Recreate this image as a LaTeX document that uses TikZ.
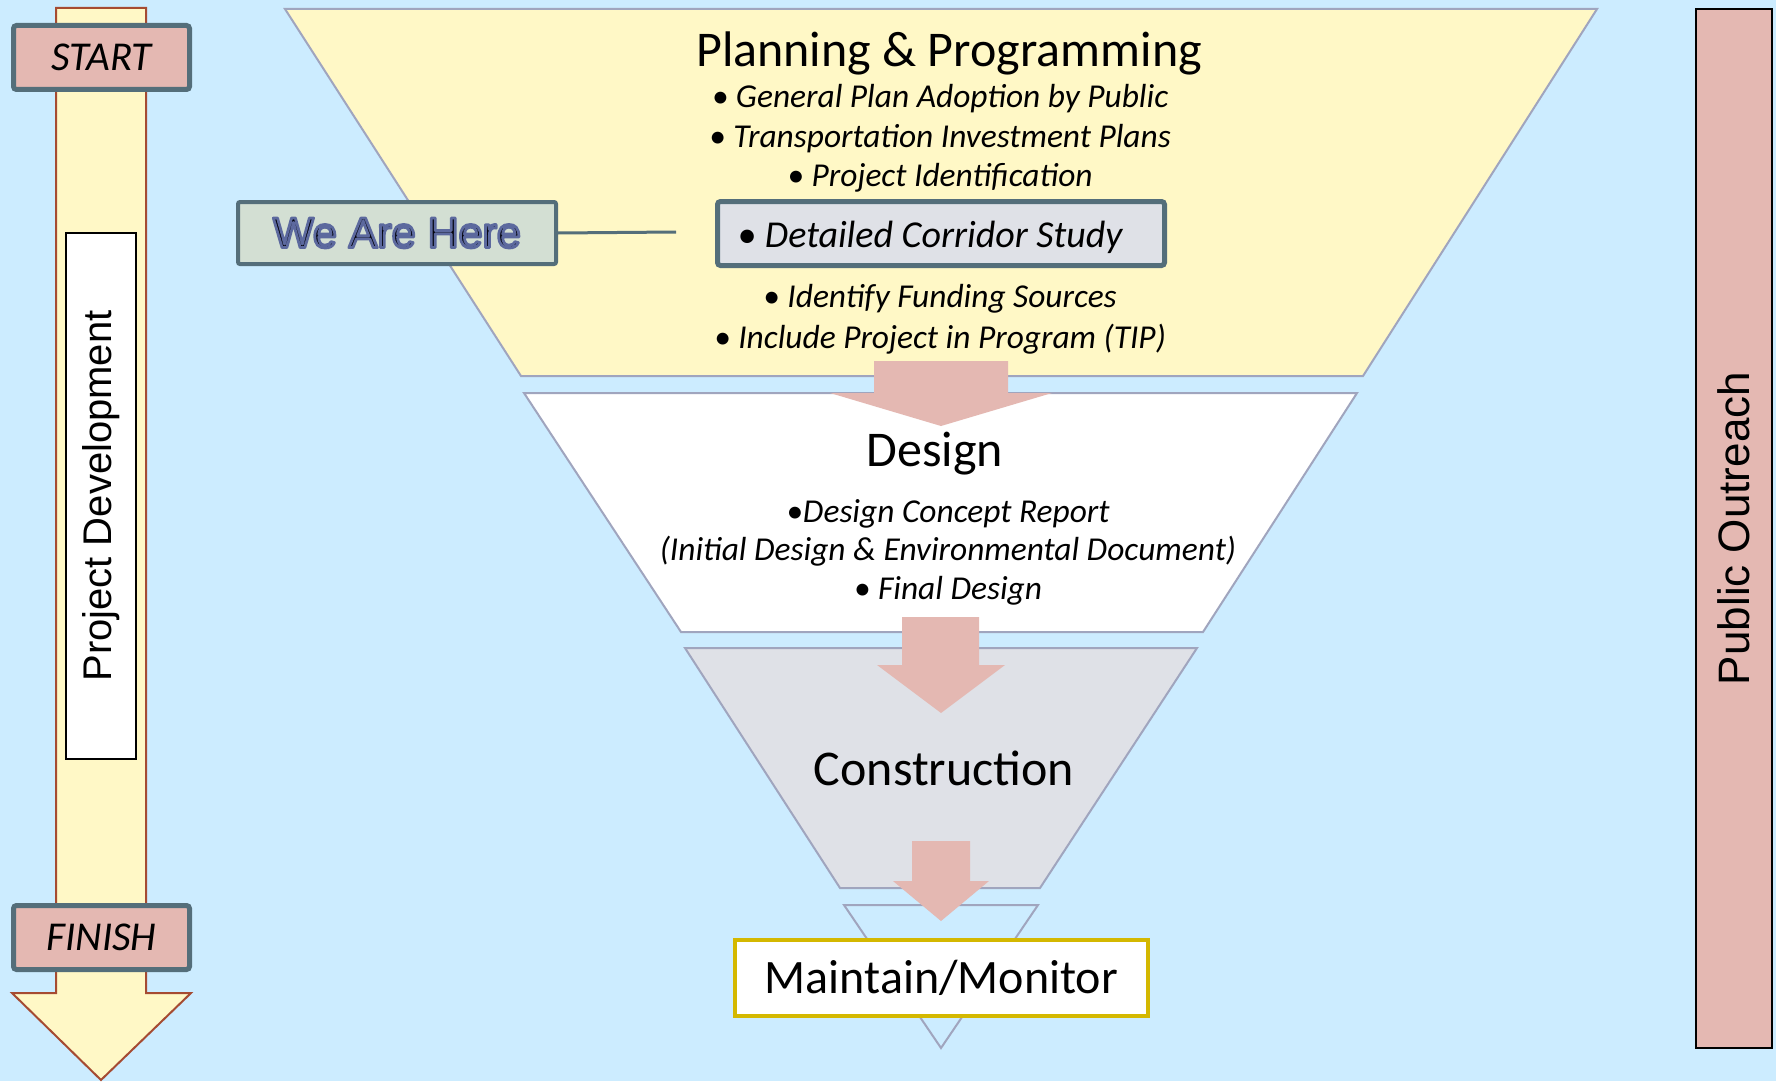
\documentclass[tikz,border=0pt]{standalone}
\usepackage{fontspec}
\setmainfont{Carlito}
\newfontfamily\arialfont{Liberation Sans}
\definecolor{bgblue}{RGB}{204,236,255}
\definecolor{paleyellow}{RGB}{255,248,198}
\definecolor{pinkfill}{RGB}{228,184,178}
\definecolor{slateline}{RGB}{84,110,122}
\definecolor{brownline}{RGB}{165,75,50}
\definecolor{trapline}{RGB}{160,165,190}
\definecolor{constgray}{RGB}{223,225,231}
\definecolor{sagefill}{RGB}{211,223,211}
\definecolor{goldline}{RGB}{212,184,0}
\definecolor{herefont}{RGB}{5,5,15}
\newcommand{\outlinedtext}[1]{{\color{herefont}\special{pdf:literal direct 2 Tr 1.4 w 0.36 0.41 0.62 RG 1 j}#1\special{pdf:literal direct 0 Tr}}}
\begin{document}
\begin{tikzpicture}[x=0.5pt,y=-0.5pt,
  trapshape/.style={draw=trapline,line width=1pt,line join=miter},
  flowarrow/.style={fill=pinkfill,draw=none},
  endbox/.style={draw=slateline,line width=2.5pt,fill=pinkfill,rounded corners=1.5pt,
    minimum width=88pt,minimum height=32pt,inner sep=0pt,
    font=\itshape\fontsize{20.5}{24}\selectfont},
  sidebox/.style={draw=black,line width=1.25pt,inner sep=0pt,rotate=90},
  itemtext/.style={font=\itshape\fontsize{16.7}{20}\selectfont,anchor=base,inner sep=0pt},
  stagetitle/.style={font=\fontsize{25}{30}\selectfont,anchor=base,inner sep=0pt}
]
\useasboundingbox (0,0) rectangle (1776,1081);
\fill[bgblue] (0,0) rectangle (1776,1081);

% left big arrow
\draw[fill=paleyellow,draw=brownline,line width=1pt,line join=miter]
  (56,8) -- (146,8) -- (146,993) -- (191,993) -- (101,1080) -- (12,993) -- (56,993) -- cycle;
\node[sidebox,fill=white,minimum width=263pt,minimum height=35pt,
  font=\arialfont\fontsize{20}{24}\selectfont] (projdev) at (101,496) {Project Development};
\node[endbox] (start) at (101.5,57.5) {START};
\node[endbox] (finish) at (101.5,937.5) {FINISH};

% funnel stages
\draw[trapshape,fill=paleyellow] (285,9) -- (1597,9) -- (1363,376) -- (521,376) -- cycle;
\draw[trapshape,fill=white] (524,393) -- (1357,393) -- (1203,632) -- (681,632) -- cycle;
\draw[trapshape,fill=constgray] (685,648) -- (1197,648) -- (1040,888) -- (840,888) -- cycle;
\draw[trapshape] (844,905) -- (1038,905) -- (941,1048) -- cycle;

% flow arrows
\fill[flowarrow] (874,361) -- (1008,361) -- (1008,393) -- (1052,393) -- (941,426) -- (830,393) -- (874,393) -- cycle;
\fill[flowarrow] (902,617) -- (979,617) -- (979,665) -- (1005,665) -- (941,713) -- (877,665) -- (902,665) -- cycle;
\fill[flowarrow] (912,841) -- (970,841) -- (970,881) -- (989,881) -- (941,921) -- (893,881) -- (912,881) -- cycle;

% planning texts
\node[stagetitle] (plantitle) at (949,67) {Planning \& Programming};
\node[itemtext] (p1) at (940,108) {• General Plan Adoption by Public};
\node[itemtext] (p2) at (940,148) {• Transportation Investment Plans};
\node[itemtext] (p3) at (940,186) {• Project Identification};
\node[itemtext] (p4) at (940,307) {• Identify Funding Sources};
\node[itemtext] (p5) at (940,348) {• Include Project in Program (TIP)};

% detailed corridor study box
\node[draw=slateline,fill=constgray,line width=2.5pt,rounded corners=1.5pt,
  minimum width=223.5pt,minimum height=32pt,inner sep=0pt] (corridor) at (941,233.5) {};
\node[font=\itshape\fontsize{19}{23}\selectfont,anchor=base west,inner sep=0pt]
  (corridortext) at (737,247) {• Detailed Corridor Study};

% we are here
\node[draw=slateline,fill=sagefill,line width=2pt,rounded corners=1pt,
  minimum width=159pt,minimum height=31pt,inner sep=0pt,
  font=\arialfont\fontsize{21.5}{26}\selectfont] (here) at (397,233) {\outlinedtext{We Are Here}};
\coordinate (hereend) at (676,232);
\draw[slateline,line width=1.5pt] (here.east) -- (hereend);

% design texts
\node[stagetitle] (designtitle) at (935,466) {Design};
\node[itemtext] (d1) at (948,522) {•Design Concept Report};
\node[itemtext] (d2) at (948,560) {(Initial Design \& Environmental Document)};
\node[itemtext] (d3) at (948,599) {• Final Design};

% construction
\node[stagetitle] (consttitle) at (944,785) {Construction};

% maintain
\node[draw=goldline,fill=white,line width=2pt,minimum width=206.5pt,minimum height=38pt,
  inner sep=0pt,font=\fontsize{24}{29}\selectfont] (maintain) at (941.5,978) {Maintain/Monitor};

% public outreach
\node[sidebox,fill=pinkfill,minimum width=519.5pt,minimum height=38pt,
  font=\arialfont\fontsize{22}{26}\selectfont] (outreach) at (1734,528.5) {Public Outreach};
\end{tikzpicture}
\end{document}
